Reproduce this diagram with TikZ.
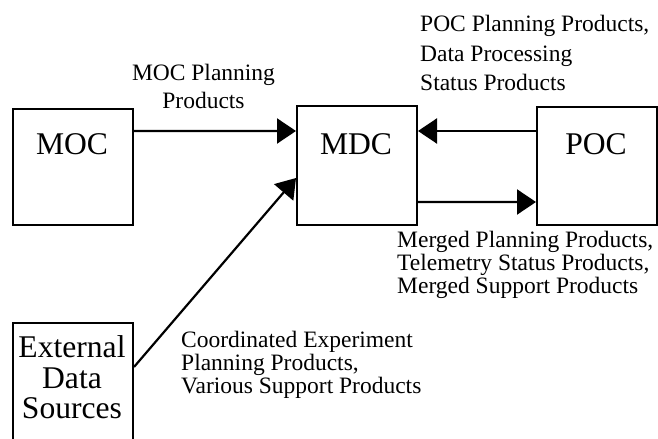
\documentclass[tikz,border=0pt]{standalone}
\usepackage{fontspec}
\setmainfont{Liberation Serif}
\usetikzlibrary{arrows.meta}
\begin{document}
\begin{tikzpicture}[x=1bp,y=-1bp,
  box/.style={draw=black, line width=2bp, inner sep=0pt, anchor=north west},
  boxtext/.style={font=\fontsize{31.6bp}{31bp}\selectfont, inner sep=0pt, anchor=base},
  lab/.style={font=\fontsize{23.5bp}{23bp}\selectfont, inner sep=0pt},
  arr/.style={line width=2.2bp, -{Triangle[length=19bp,width=25bp]}}]
\useasboundingbox (0,0) rectangle (658,439);
\clip (0,0) rectangle (658,439);
% boxes
\node[box, minimum width=120bp, minimum height=116bp] (moc) at (12,108) {};
\node[box, minimum width=120bp, minimum height=119bp] (mdc) at (296,105) {};
\node[box, minimum width=120bp, minimum height=118bp] (poc) at (536,106) {};
\node[box, minimum width=120bp, minimum height=140bp] (ext) at (12,322) {};
% box texts
\node[boxtext] (moct) at (72,155) {MOC};
\node[boxtext] (mdct) at (356,155) {MDC};
\node[boxtext] (poct) at (596,155) {POC};
\node[boxtext] (ext1) at (72,357) {External};
\node[boxtext] (ext2) at (72,388) {Data};
\node[boxtext] (ext3) at (72,418) {Sources};
% connectors
\draw[arr] ([yshift=-23bp]moc.north east) -- ([yshift=-26bp]mdc.north west);
\draw[arr] ([yshift=-25bp]poc.north west) -- ([yshift=-26bp]mdc.north east);
\draw[arr] ([yshift=-97bp]mdc.north east) -- ([yshift=-96bp]poc.north west);
\draw[arr] ([yshift=-45bp]ext.north east) -- ([yshift=-73bp]mdc.north west);
% labels
\node[lab, anchor=base] (l1a) at (203.5,81) {MOC Planning};
\node[lab, anchor=base] (l1b) at (203.5,109) {Products};
\node[lab, anchor=base west] (l2a) at (420,32) {POC Planning Products,};
\node[lab, anchor=base west] (l2b) at (420,62) {Data Processing};
\node[lab, anchor=base west] (l2c) at (420,91) {Status Products};
\node[lab, anchor=base west] (l3a) at (397,248) {Merged Planning Products,};
\node[lab, anchor=base west] (l3b) at (397,271) {Telemetry Status Products,};
\node[lab, anchor=base west] (l3c) at (397,294) {Merged Support Products};
\node[lab, anchor=base west] (l4a) at (181,347) {Coordinated Experiment};
\node[lab, anchor=base west] (l4b) at (181,370) {Planning Products,};
\node[lab, anchor=base west] (l4c) at (181,393) {Various Support Products};
\end{tikzpicture}
\end{document}
